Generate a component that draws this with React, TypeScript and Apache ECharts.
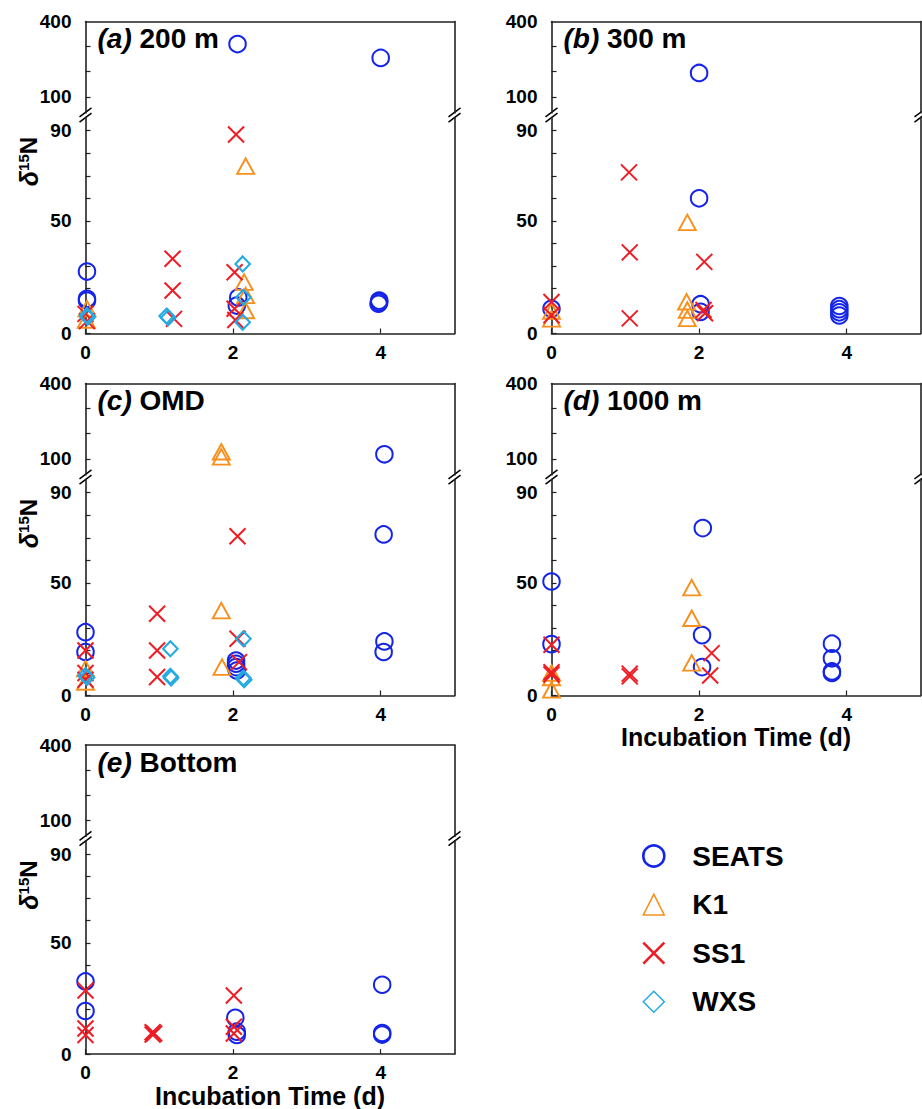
import React, { useEffect, useRef } from "react";
import * as echarts from "echarts";

// ---------------- data ----------------
const SERIES_NAMES = ["SEATS", "K1", "SS1", "WXS"];
const PANEL_TAGS = ["(a)", "(b)", "(c)", "(d)", "(e)"];
const PANEL_NAMES = ["200 m", "300 m", "OMD", "1000 m", "Bottom"];
const X_TICKS = [0, 2, 4];
const LOWER_TICKS = [0, 10, 20, 30, 40, 50, 60, 70, 80, 90];
const LOWER_LABELS = [0, 50, 90];
const UPPER_TICKS = [100, 200, 300];
const UPPER_LABELS = [100, 400];
const X_NAME = "Incubation Time (d)";

type Pt = [number, number];

// (a) 200 m
const A_SEATS: Pt[] = [[0.02, 27.5], [0.02, 15.4], [0.02, 14.6], [2.06, 310], [2.07, 16.0], [2.05, 12.4], [4.0, 255], [3.98, 14.6], [3.98, 13.9], [3.97, 13.2]];
const A_K1: Pt[] = [[0.02, 11.0], [0.01, 6.0], [2.17, 74.3], [2.15, 22.8], [2.17, 16.9], [2.17, 10.2]];
const A_SS1: Pt[] = [[0.0, 8.7], [0.02, 5.5], [1.18, 33.2], [1.18, 19.1], [1.2, 6.5], [2.04, 88.3], [2.02, 27.2], [2.02, 11.0], [2.03, 6.0]];
const A_WXS: Pt[] = [[0.02, 8.0], [0.03, 7.2], [1.1, 7.8], [1.12, 7.0], [2.13, 30.9], [2.14, 16.1], [2.13, 5.0]];

// (b) 300 m
const B_SEATS: Pt[] = [[0.0, 11.0], [2.0, 195], [2.0, 60.0], [2.02, 13.0], [2.02, 9.6], [3.9, 12.2], [3.9, 10.8], [3.9, 9.4], [3.9, 8.0]];
const B_K1: Pt[] = [[0.0, 10.0], [0.0, 6.5], [1.84, 49.3], [1.83, 14.1], [1.84, 10.4], [1.84, 6.7]];
const B_SS1: Pt[] = [[0.0, 14.0], [0.0, 8.1], [1.05, 71.5], [1.06, 36.0], [1.06, 6.7], [2.07, 31.8], [2.06, 10.4], [2.08, 9.0]];
const B_WXS: Pt[] = [];

// (c) OMD
const C_SEATS: Pt[] = [[0.0, 28.1], [0.0, 19.3], [2.04, 15.5], [2.04, 14.1], [2.04, 12.6], [2.05, 11.1], [4.05, 118], [4.04, 71.5], [4.05, 24.0], [4.04, 19.3]];
const C_K1: Pt[] = [[0.0, 11.9], [0.0, 6.0], [1.84, 128], [1.84, 108], [1.84, 37.7], [1.85, 12.6]];
const C_SS1: Pt[] = [[0.0, 20.0], [0.0, 10.0], [0.0, 7.0], [0.97, 36.3], [0.97, 20.0], [0.97, 8.2], [2.06, 70.7], [2.06, 25.2], [2.08, 14.8]];
const C_WXS: Pt[] = [[0.0, 8.9], [0.02, 8.0], [1.15, 20.7], [1.15, 8.5], [1.16, 7.8], [2.14, 25.2], [2.14, 7.8], [2.15, 7.0]];

// (d) 1000 m
const D_SEATS: Pt[] = [[0.0, 50.6], [0.0, 22.8], [2.05, 74.3], [2.04, 26.8], [2.04, 12.6], [3.8, 23.0], [3.8, 16.5], [3.8, 10.7], [3.8, 10.0]];
const D_K1: Pt[] = [[0.0, 10.0], [0.0, 8.0], [0.0, 2.5], [1.9, 47.9], [1.9, 34.3], [1.9, 14.5]];
const D_SS1: Pt[] = [[0.0, 22.5], [0.0, 10.3], [0.0, 9.3], [1.06, 9.7], [1.06, 8.5], [2.17, 18.8], [2.15, 8.9]];
const D_WXS: Pt[] = [];

// (e) Bottom
const E_SEATS: Pt[] = [[0.0, 32.7], [0.0, 19.4], [2.03, 16.3], [2.05, 10.1], [2.05, 8.6], [4.02, 31.2], [4.02, 9.5], [4.02, 8.8]];
const E_K1: Pt[] = [];
const E_SS1: Pt[] = [[0.0, 28.6], [0.0, 11.5], [0.0, 8.6], [0.91, 9.8], [0.91, 8.8], [0.93, 9.3], [2.01, 26.4], [2.01, 12.3], [2.01, 9.3]];
const E_WXS: Pt[] = [];

const PANEL_DATA: Pt[][][] = [
  [A_SEATS, A_K1, A_SS1, A_WXS],
  [B_SEATS, B_K1, B_SS1, B_WXS],
  [C_SEATS, C_K1, C_SS1, C_WXS],
  [D_SEATS, D_K1, D_SS1, D_WXS],
  [E_SEATS, E_K1, E_SS1, E_WXS],
];
const PANEL_HAS_XNAME = [false, false, false, true, true];
const PANEL_HAS_YNAME = [true, false, true, false, true];

// ---------------- layout & style ----------------
const FONT = "'Liberation Sans', Arial, Helvetica, sans-serif";
const COL_LEFT = [85.5, 551.5];
const ROW_TOP = [21.5, 383.5, 745];
const W = 369;
const H = 312;
const PX_LOW = 2.253; // px per unit, lower segment
const PX_UP = 0.251; // px per unit, upper segment
const LMAX = 96;
const UMIN = 36;
const UMAX = 400;

const COLORS: Record<string, string> = {
  SEATS: "#1424e8",
  K1: "#f7901e",
  SS1: "#ee1c24",
  WXS: "#25aae1",
};
const SYMBOLS: Record<string, any> = {
  SEATS: { symbol: "circle", size: 16.5, bw: 2 },
  K1: { symbol: "triangle", size: [17, 15.5], bw: 1.9 },
  SS1: { symbol: "path://M0 0L10 10M10 0L0 10", size: 16, bw: 2 },
  WXS: { symbol: "diamond", size: [14.5, 15], bw: 2.1 },
};
const LEGEND_BW: Record<string, number> = { SEATS: 2.6, K1: 1.5, SS1: 2.6, WXS: 1.5 };

const AXIS_COLOR = "#222";

function buildOption() {
  const grids: any[] = [];
  const xAxes: any[] = [];
  const yAxes: any[] = [];
  const series: any[] = [];
  const graphics: any[] = [];
  const hu = (UMAX - UMIN) * PX_UP;
  const hl = LMAX * PX_LOW;
  const axisLine = { show: true, onZero: false, lineStyle: { color: AXIS_COLOR, width: 1.6 } };
  const labelStyle = { fontSize: 19, fontWeight: "bold", color: "#000", fontFamily: FONT };
  const tickStyle = { color: AXIS_COLOR, width: 1.2 };

  PANEL_DATA.forEach((sets, i) => {
    const L = COL_LEFT[i % 2];
    const T = ROW_TOP[Math.floor(i / 2)];
    grids.push({ left: L, top: T, width: W, height: hu });
    grids.push({ left: L, top: T + H - hl, width: W, height: hl });
    const gU = 2 * i;
    const gL = 2 * i + 1;

    xAxes.push({
      gridIndex: gU, type: "value", position: "top", min: 0, max: 5,
      axisLine, axisTick: { show: false }, axisLabel: { show: false }, splitLine: { show: false },
    });
    xAxes.push({
      gridIndex: gL, type: "value", position: "bottom", min: 0, max: 5,
      axisLine,
      axisTick: { show: true, inside: true, length: 5, customValues: X_TICKS, lineStyle: tickStyle },
      axisLabel: { show: true, customValues: X_TICKS, margin: 9, ...labelStyle },
      splitLine: { show: false },
      name: PANEL_HAS_XNAME[i] ? X_NAME : "",
      nameLocation: "middle",
      nameGap: 26,
      nameTextStyle: { fontSize: 25, fontWeight: "bold", color: "#000", fontFamily: FONT },
    });

    // upper left, upper right, lower left, lower right
    yAxes.push({
      gridIndex: gU, type: "value", position: "left", min: UMIN, max: UMAX,
      axisLine,
      axisTick: { show: true, inside: true, length: 5, customValues: UPPER_TICKS, lineStyle: tickStyle },
      axisLabel: { show: true, customValues: UPPER_LABELS, margin: 14, ...labelStyle },
      splitLine: { show: false },
    });
    yAxes.push({
      gridIndex: gU, type: "value", position: "right", min: UMIN, max: UMAX,
      axisLine, axisTick: { show: false }, axisLabel: { show: false }, splitLine: { show: false },
    });
    yAxes.push({
      gridIndex: gL, type: "value", position: "left", min: 0, max: LMAX,
      axisLine,
      axisTick: { show: true, inside: true, length: 5, customValues: LOWER_TICKS, lineStyle: tickStyle },
      axisLabel: { show: true, customValues: LOWER_LABELS, margin: 14, ...labelStyle },
      splitLine: { show: false },
    });
    yAxes.push({
      gridIndex: gL, type: "value", position: "right", min: 0, max: LMAX,
      axisLine, axisTick: { show: false }, axisLabel: { show: false }, splitLine: { show: false },
    });

    sets.forEach((data, k) => {
      const name = SERIES_NAMES[k];
      const sym = SYMBOLS[name];
      const common = {
        type: "scatter", name, symbol: sym.symbol, symbolSize: sym.size, clip: false,
        itemStyle: { color: "rgba(0,0,0,0)", borderColor: COLORS[name], borderWidth: sym.bw, opacity: 1 },
        emphasis: { disabled: true },
      };
      const low = data.filter((d) => d[1] <= LMAX);
      const up = data.filter((d) => d[1] > LMAX);
      series.push({ ...common, xAxisIndex: gL, yAxisIndex: 4 * i + 2, data: low });
      if (up.length) series.push({ ...common, xAxisIndex: gU, yAxisIndex: 4 * i, data: up });
    });

    // panel title
    graphics.push({
      type: "text", x: L + 12, y: T + 17, silent: true,
      style: {
        text: `{i|${PANEL_TAGS[i]}}{b| ${PANEL_NAMES[i]}}`,
        verticalAlign: "middle",
        rich: {
          i: { fontSize: 28, fontWeight: "bold", fontStyle: "italic", fontFamily: FONT, fill: "#000" },
          b: { fontSize: 28, fontWeight: "bold", fontFamily: FONT, fill: "#000" },
        },
      },
    });

    // y-axis name
    if (PANEL_HAS_YNAME[i]) {
      graphics.push({
        type: "text", x: L - 57, y: T + 140, rotation: Math.PI / 2, silent: true,
        style: {
          text: "{d|δ}{s|15}{n|N}",
          align: "center",
          verticalAlign: "middle",
          rich: {
            d: { fontSize: 25, fontWeight: "bold", fontStyle: "italic", fontFamily: FONT, fill: "#000", lineHeight: 26 },
            s: { fontSize: 15, fontWeight: "bold", fontFamily: FONT, fill: "#000", verticalAlign: "top", lineHeight: 15 },
            n: { fontSize: 24, fontWeight: "bold", fontFamily: FONT, fill: "#000", lineHeight: 26 },
          },
        },
      });
    }

    // axis break marks
    const yc = T + hu + (H - hu - hl) / 2;
    [L, L + W].forEach((ex) => {
      [-2.6, 2.6].forEach((off) => {
        graphics.push({
          type: "line", silent: true,
          shape: { x1: ex - 6, y1: yc + off + 4.5, x2: ex + 6, y2: yc + off - 4.5 },
          style: { stroke: "#000", lineWidth: 1.5 },
        });
      });
    });
  });

  return {
    animation: false,
    backgroundColor: "#fff",
    grid: grids,
    xAxis: xAxes,
    yAxis: yAxes,
    series,
    graphic: graphics,
    legend: {
      data: SERIES_NAMES.map((n) => ({ name: n, itemStyle: { borderWidth: LEGEND_BW[n], opacity: 1 } })),
      orient: "vertical",
      left: 637,
      top: 837,
      itemWidth: 21,
      itemHeight: 21,
      itemGap: 20.6,
      selectedMode: false,
      textStyle: { fontSize: 28, fontWeight: "bold", color: "#000", fontFamily: FONT, padding: [0, 0, 0, 23] },
    },
  };
}

export default function App() {
  const ref = useRef<HTMLDivElement>(null);
  useEffect(() => {
    document.body.style.margin = "0";
    if (!ref.current) return;
    const chart = echarts.init(ref.current, undefined, { renderer: "svg" });
    chart.setOption(buildOption() as any);
    return () => chart.dispose();
  }, []);
  return <div ref={ref} style={{ width: 922, height: 1109 }} />;
}
